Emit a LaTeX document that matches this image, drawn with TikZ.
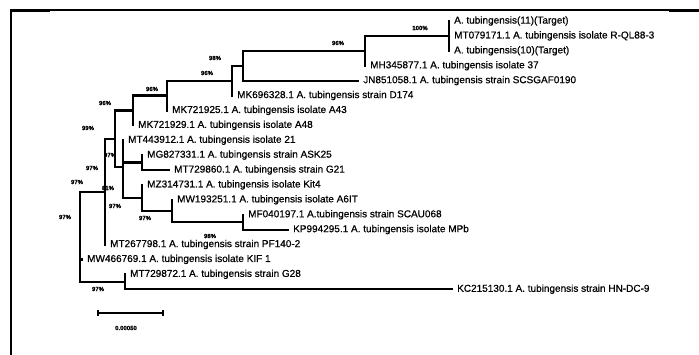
\documentclass[tikz,border=0pt]{standalone}
\usepackage{fontspec}
\setmainfont{Liberation Sans}[FakeBold=0.6]
\usetikzlibrary{positioning}
\tikzset{
  branch/.style={line width=2.2pt, line cap=rect},
  leaf/.style={anchor=west, inner xsep=5pt, inner ysep=0pt, font=\fontsize{10}{10}\selectfont},
  boot/.style={inner sep=0pt, font=\fontsize{6}{6}\selectfont\bfseries},
  frameline/.style={line cap=rect}
}
\begin{document}
\begin{tikzpicture}[x=1pt, y=-1pt]
  \useasboundingbox (0,0) rectangle (699,354);

  % frame
  \draw[frameline, line width=1.5pt] (11,10) -- (699,10);
  \draw[frameline, line width=3pt] (11,10) -- (48,10);
  \draw[frameline, line width=3pt] (670,10) -- (699,10);
  \draw[frameline, line width=2.5pt] (11,10) -- (11,354);

  % inner nodes
  \coordinate (L) at (449,35.9);
  \coordinate (K) at (365,50.8);
  \coordinate (J) at (243,65.7);
  \coordinate (I) at (232,80.6);
  \coordinate (H) at (167,95.5);
  \coordinate (D) at (133,110.4);
  \coordinate (E) at (123,166.9);
  \coordinate (C) at (115,138.6);
  \coordinate (F) at (142,162.5);
  \coordinate (M) at (142,197.9);
  \coordinate (N) at (172,211);
  \coordinate (O) at (243,222.2);
  \coordinate (A) at (105,191.6);
  \coordinate (B) at (125,281.7);
  \coordinate (R) at (80,191.6);

  % leaves
  \node[leaf] (t1) at (449,21) {A. tubingensis(11)(Target)};
  \node[leaf] (t2) at (449,35.9) {MT079171.1 A. tubingensis isolate R-QL88-3};
  \node[leaf] (t3) at (449,50.8) {A. tubingensis(10)(Target)};
  \node[leaf] (t4) at (365,65.7) {MH345877.1 A. tubingensis isolate 37};
  \node[leaf] (t5) at (358,80.6) {JN851058.1 A. tubingensis strain SCSGAF0190};
  \node[leaf] (t6) at (232,95.5) {MK696328.1 A. tubingensis strain D174};
  \node[leaf] (t7) at (167,110.4) {MK721925.1 A. tubingensis isolate A43};
  \node[leaf] (t8) at (133,125.3) {MK721929.1 A. tubingensis isolate A48};
  \node[leaf] (t9) at (123,140.2) {MT443912.1 A. tubingensis isolate 21};
  \node[leaf] (t10) at (142,155.1) {MG827331.1 A. tubingensis strain ASK25};
  \node[leaf] (t11) at (169,170) {MT729860.1 A. tubingensis strain G21};
  \node[leaf] (t12) at (142,184.9) {MZ314731.1 A. tubingensis isolate Kit4};
  \node[leaf] (t13) at (172,199.8) {MW193251.1 A. tubingensis isolate A6IT};
  \node[leaf] (t14) at (243,214.7) {MF040197.1 A.tubingensis strain SCAU068};
  \node[leaf] (t15) at (288,229.6) {KP994295.1 A. tubingensis isolate MPb};
  \node[leaf] (t16) at (105,244.5) {MT267798.1 A. tubingensis strain PF140-2};
  \node[leaf] (t17) at (82,259.4) {MW466769.1 A. tubingensis isolate KIF 1};
  \node[leaf] (t18) at (125,274.3) {MT729872.1 A. tubingensis strain G28};
  \node[leaf] (t19) at (452,289.2) {KC215130.1 A. tubingensis strain HN-DC-9};

  % branches
  \draw[branch] (t1.west) -- (t3.west);
  \draw[branch] (K) |- (L);
  \draw[branch] (K) |- (t4.west);
  \draw[branch] (J) |- (K);
  \draw[branch] (J) |- (t5.west);
  \draw[branch] (I) |- (J);
  \draw[branch] (I) |- (t6.west);
  \draw[branch] (H) |- (I);
  \draw[branch] (H) |- (t7.west);
  \draw[branch] (D) |- (H);
  \draw[branch] (D) |- (t8.west);
  \draw[branch] (C) |- (D);
  \draw[branch] (C) |- (E);
  \draw[branch] (E) |- (t9.west);
  \draw[branch] (E) |- (F);
  \draw[branch] (E) |- (M);
  \draw[branch] (F) |- (t10.west);
  \draw[branch] (F) |- (t11.west);
  \draw[branch] (M) |- (t12.west);
  \draw[branch] (M) |- (N);
  \draw[branch] (N) |- (t13.west);
  \draw[branch] (N) |- (O);
  \draw[branch] (O) |- (t14.west);
  \draw[branch] (O) |- (t15.west);
  \draw[branch] (A) |- (C);
  \draw[branch] (A) |- (t16.west);
  \draw[branch] (R) -- (A);
  \draw[branch] (R) |- (t17.west);
  \draw[branch] (R) |- (B);
  \draw[branch] (B) |- (t18.west);
  \draw[branch] (B) |- (t19.west);

  % bootstrap values
  \node[boot] (b1) at (420,28) {100\%};
  \node[boot] (b2) at (338,43) {96\%};
  \node[boot] (b3) at (215,58) {98\%};
  \node[boot] (b4) at (207,73) {96\%};
  \node[boot] (b5) at (152,89) {96\%};
  \node[boot] (b6) at (105,103) {96\%};
  \node[boot] (b7) at (88,128) {99\%};
  \node[boot] (b8) at (110,155) {97\%};
  \node[boot] (b9) at (92,168) {97\%};
  \node[boot] (b10) at (77,182) {97\%};
  \node[boot] (b11) at (108,188) {81\%};
  \node[boot] (b12) at (115,206) {97\%};
  \node[boot] (b13) at (65,217) {97\%};
  \node[boot] (b14) at (145,218) {97\%};
  \node[boot] (b15) at (210,236) {98\%};
  \node[boot] (b16) at (98,289) {97\%};

  % scale bar
  \coordinate (s1) at (98,313);
  \coordinate (s2) at (163,313);
  \draw[line width=1.5pt] (s1) -- (s2);
  \draw[line width=2pt] ([yshift=-3pt]s1) -- ([yshift=3pt]s1);
  \draw[line width=2pt] ([yshift=-3pt]s2) -- ([yshift=3pt]s2);
  \node[boot] (sl) at (126,328) {0.00050};
\end{tikzpicture}
\end{document}
